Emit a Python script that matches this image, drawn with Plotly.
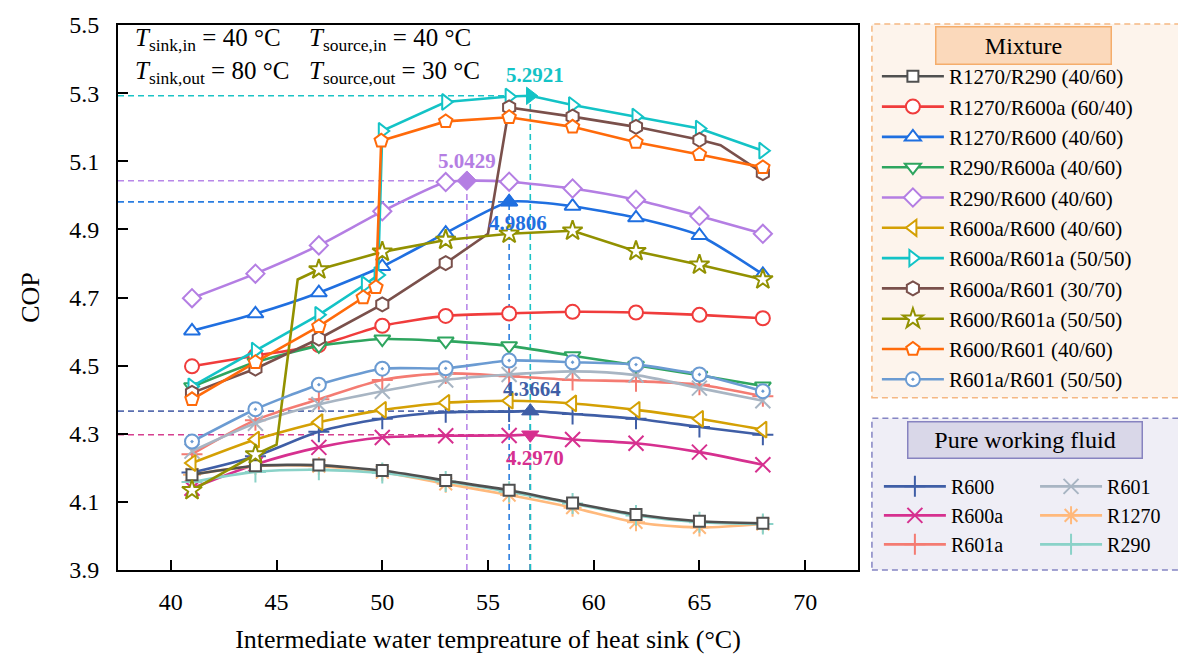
import plotly.graph_objects as go

# ---------------- data ----------------
T_GRID = [41, 44, 47, 50, 53, 56, 59, 62, 65, 68]   # intermediate water temperature (°C)

# pure working fluids
R600_COP = [4.186, 4.234, 4.306, 4.344, 4.363, 4.365, 4.358, 4.344, 4.320, 4.297]
R600A_COP = [4.140, 4.210, 4.260, 4.289, 4.294, 4.295, 4.283, 4.272, 4.246, 4.209]
R601A_COP = [4.240, 4.340, 4.401, 4.458, 4.477, 4.469, 4.458, 4.454, 4.444, 4.410]
R601_COP = [4.249, 4.331, 4.386, 4.425, 4.458, 4.474, 4.483, 4.472, 4.434, 4.397]
R1270_COP = [4.180, 4.205, 4.205, 4.187, 4.153, 4.120, 4.083, 4.040, 4.025, 4.035]
R290_COP = [4.158, 4.188, 4.194, 4.185, 4.160, 4.130, 4.095, 4.060, 4.040, 4.035]

# mixtures
R1270_R290_COP = [4.180, 4.206, 4.208, 4.192, 4.163, 4.134, 4.097, 4.063, 4.043, 4.037]
R1270_R600A_COP = [4.498, 4.529, 4.560, 4.617, 4.646, 4.653, 4.658, 4.656, 4.649, 4.639]
R1270_R600_COP = [4.602, 4.652, 4.714, 4.791, 4.889, 4.9806, 4.968, 4.934, 4.882, 4.768]
R290_R600A_COP = [4.438, 4.510, 4.558, 4.578, 4.572, 4.558, 4.529, 4.501, 4.472, 4.440]
R290_R600_COP = [4.698, 4.770, 4.853, 4.953, 5.039, 5.040, 5.020, 4.987, 4.939, 4.887]
R600A_R600_COP = [4.214, 4.283, 4.334, 4.370, 4.391, 4.397, 4.389, 4.370, 4.344, 4.312]
R600A_R601_COP = [4.420, 4.491, 4.579, 4.680, 4.801, 5.258, 5.231, 5.201, 5.163, 5.065]
R600_R601A_COP = [4.134, 4.239, 4.782, 4.834, 4.869, 4.887, 4.896, 4.836, 4.796, 4.753]
R601A_R601_COP = [4.277, 4.372, 4.444, 4.491, 4.492, 4.515, 4.510, 4.503, 4.474, 4.425]

# evaluated at extra temperatures around the jump near 50 °C
R600A_R601A_T = [41, 44, 47, 49.2, 49.8, 50, 53, 56, 59, 62, 65, 68]
R600A_R601A_COP = [4.439, 4.544, 4.649, 4.739, 4.766, 5.189, 5.274, 5.290, 5.265, 5.231, 5.196, 5.131]
R600_R601_T = [41, 44, 47, 49.1, 49.7, 49.95, 53, 56, 59, 62, 65, 68]
R600_R601_COP = [4.401, 4.510, 4.615, 4.700, 4.730, 5.160, 5.217, 5.229, 5.201, 5.156, 5.120, 5.082]

# unmarked bends of two curves
R600A_R601_BEND_T = [55, 66]
R600A_R601_BEND_COP = [4.887, 5.147]
R600_R601A_BEND_T = [45, 46]
R600_R601A_BEND_COP = [4.268, 4.753]

# highlighted maximum COP values
PEAK_NAMES = ["R600a/R601a (50/50)", "R290/R600 (40/60)", "R1270/R600 (40/60)", "R600", "R600a"]
PEAK_T = [57, 54, 56, 57, 57]
PEAK_COP = [5.2921, 5.0429, 4.9806, 4.3664, 4.2970]

X_TICKS = [40, 45, 50, 55, 60, 65, 70]
Y_TICKS = [3.9, 4.1, 4.3, 4.5, 4.7, 4.9, 5.1, 5.3, 5.5]

# ---------------- styling ----------------
FONT = "Liberation Serif"
L, R, T, B = 118, 862, 17, 577          # plot-area edges in px
X_RANGE = [37.5, 72.5]
Y_RANGE = [3.9, 5.5]


def paper_x(px):
    return (px - L) / (R - L)


def paper_y(py):
    return (B - py) / (B - T)


# name, temps, cop, bend temps, bend cop, colour, symbol, marker size, spline
MIXTURES = [
    ("R1270/R290 (40/60)", T_GRID, R1270_R290_COP, [], [], "#505050", "square", 11, True),
    ("R1270/R600a (60/40)", T_GRID, R1270_R600A_COP, [], [], "#f03c3c", "circle", 14, True),
    ("R1270/R600 (40/60)", T_GRID, R1270_R600_COP, [], [], "#1f6fe0", "triangle-up", 14, True),
    ("R290/R600a (40/60)", T_GRID, R290_R600A_COP, [], [], "#2ea55f", "triangle-down", 14, True),
    ("R290/R600 (40/60)", T_GRID, R290_R600_COP, [], [], "#b47ee3", "diamond", 14, True),
    ("R600a/R600 (40/60)", T_GRID, R600A_R600_COP, [], [], "#d4a004", "triangle-left", 14, True),
    ("R600a/R601a (50/50)", R600A_R601A_T, R600A_R601A_COP, [], [], "#13c3c6", "triangle-right", 14, False),
    ("R600a/R601 (30/70)", T_GRID, R600A_R601_COP, R600A_R601_BEND_T, R600A_R601_BEND_COP,
     "#7a504b", "hexagon", 14, False),
    ("R600/R601a (50/50)", T_GRID, R600_R601A_COP, R600_R601A_BEND_T, R600_R601A_BEND_COP,
     "#929100", "star", 15, False),
    ("R600/R601 (40/60)", R600_R601_T, R600_R601_COP, [], [], "#ff6a0a", "pentagon", 14, False),
    ("R601a/R601 (50/50)", T_GRID, R601A_R601_COP, [], [], "#6b9bd2", "circle-dot", 14, True),
]

PURE = [
    ("R600", R600_COP, "#3f5ea6", "cross-thin", "legend2"),
    ("R600a", R600A_COP, "#d6308f", "x-thin", "legend2"),
    ("R601a", R601A_COP, "#f47b72", "cross-thin", "legend2"),
    ("R601", R601_COP, "#a8b5c3", "x-thin", "legend3"),
    ("R1270", R1270_COP, "#ffb97c", "asterisk", "legend3"),
    ("R290", R290_COP, "#8ad2c8", "cross-thin", "legend3"),
]

PEAK_STYLE = {
    "R600a/R601a (50/50)": ("#13c3c6", "triangle-right", 5, 21),
    "R290/R600 (40/60)": ("#b47ee3", "diamond", 0, 20),
    "R1270/R600 (40/60)": ("#1f6fe0", "triangle-up", 9, -21),
    "R600": ("#3f5ea6", "triangle-up", 2, 22),
    "R600a": ("#d6308f", "triangle-down", 5, -23),
}
GUIDE_COLOUR = {
    "R600a/R601a (50/50)": "#1cc3c6",
    "R290/R600 (40/60)": "#b888e8",
    "R1270/R600 (40/60)": "#2a7de1",
    "R600": "#5a6fb0",
    "R600a": "#d6408f",
}

fig = go.Figure()


def path_points(name, temps, cops, bend_t, bend_c):
    pts = dict(zip(temps, cops))
    pts.update(zip(bend_t, bend_c))
    for n, t, c in zip(PEAK_NAMES, PEAK_T, PEAK_COP):
        if n == name and t not in pts:
            pts[t] = c
    xs = sorted(pts)
    return xs, [pts[x] for x in xs]


# pure working fluids (drawn first, underneath)
for name, cops, colour, symbol, leg in PURE:
    xs, ys = path_points(name, T_GRID, cops, [], [])
    fig.add_trace(go.Scatter(x=xs, y=ys, mode="lines", showlegend=False, hoverinfo="skip",
                             line=dict(color=colour, width=2.6, shape="spline", smoothing=0.8)))
    mk = dict(symbol=symbol, size=15, color=colour, line=dict(color=colour, width=2))
    fig.add_trace(go.Scatter(x=T_GRID, y=cops, mode="markers", showlegend=False,
                             marker=mk, name=name))
    fig.add_trace(go.Scatter(x=[None], y=[None], mode="lines+markers", name=name, legend=leg,
                             line=dict(color=colour, width=2.6), marker=mk))

# mixtures
for name, temps, cops, bt, bc, colour, symbol, msize, smooth in MIXTURES:
    xs, ys = path_points(name, temps, cops, bt, bc)
    line = dict(color=colour, width=2.6)
    if smooth:
        line.update(shape="spline", smoothing=0.6)
    fig.add_trace(go.Scatter(x=xs, y=ys, mode="lines", showlegend=False, hoverinfo="skip", line=line))
    mk = dict(symbol=symbol, size=msize, color="white", line=dict(color=colour, width=2))
    fig.add_trace(go.Scatter(x=temps, y=cops, mode="markers", showlegend=False,
                             marker=mk, name=name))
    fig.add_trace(go.Scatter(x=[None], y=[None], mode="lines+markers", name=name, legend="legend",
                             line=dict(color=colour, width=2.6), marker=mk))

# highlighted maxima: dashed guides, filled markers and value labels
shapes = []
annotations = []
# guides drawn in reverse so the first (highest) maximum sits on top
for name, t, c in reversed(list(zip(PEAK_NAMES, PEAK_T, PEAK_COP))):
    g = GUIDE_COLOUR[name]
    shapes.append(dict(type="line", xref="x", yref="y", x0=X_RANGE[0], x1=t, y0=c, y1=c,
                       line=dict(color=g, width=1.6, dash="6px,4px"), layer="below"))
    shapes.append(dict(type="line", xref="x", yref="y", x0=t, x1=t, y0=Y_RANGE[0], y1=c,
                       line=dict(color=g, width=1.6, dash="6px,4px"), layer="below"))
for name, t, c in zip(PEAK_NAMES, PEAK_T, PEAK_COP):
    colour, symbol, dx, dy = PEAK_STYLE[name]
    fig.add_trace(go.Scatter(x=[t], y=[c], mode="markers", showlegend=False, name=name,
                             marker=dict(symbol=symbol, size=15, color=colour,
                                         line=dict(color=colour, width=1))))
    annotations.append(dict(xref="x", yref="y", x=t, y=c, text=f"<b>{c:.4f}</b>", showarrow=False,
                            xshift=dx, yshift=dy, font=dict(size=21, color=colour, family=FONT)))

# operating conditions
COND = [
    (133, 32, "<i>T</i><sub>sink,in</sub> = 40 °C"),
    (308, 32, "<i>T</i><sub>source,in</sub> = 40 °C"),
    (133, 66, "<i>T</i><sub>sink,out</sub> = 80 °C"),
    (308, 66, "<i>T</i><sub>source,out</sub> = 30 °C"),
]
for px, py, txt in COND:
    annotations.append(dict(xref="paper", yref="paper", x=paper_x(px), y=paper_y(py), text=txt,
                            xanchor="left", yanchor="middle", showarrow=False,
                            font=dict(size=25, family=FONT, color="black")))

# legend panels
shapes.append(dict(type="rect", xref="paper", yref="paper", x0=paper_x(876), x1=paper_x(1190),
                   y0=paper_y(400), y1=paper_y(16), fillcolor="#fdf4ec",
                   line=dict(color="#f5b883", width=1.5, dash="6px,4px"), layer="below"))
shapes.append(dict(type="rect", xref="paper", yref="paper", x0=paper_x(876), x1=paper_x(1190),
                   y0=paper_y(577), y1=paper_y(421), fillcolor="#efeef6",
                   line=dict(color="#8585c4", width=1.5, dash="6px,4px"), layer="below"))
annotations.append(dict(xref="paper", yref="paper", x=paper_x(1028), y=paper_y(38), text="Mixture",
                        xanchor="center", yanchor="middle",
                        showarrow=False, width=172, height=34, bgcolor="#fbd9bb",
                        bordercolor="#f5ad6b", borderwidth=1.5,
                        font=dict(size=24, family=FONT, color="black")))
annotations.append(dict(xref="paper", yref="paper", x=paper_x(1030), y=paper_y(443),
                        text="Pure working fluid", showarrow=False, width=231, height=33,
                        xanchor="center", yanchor="middle",
                        bgcolor="#d9d7e8", bordercolor="#8783c0", borderwidth=1.5,
                        font=dict(size=24, family=FONT, color="black")))

legend_common = dict(xanchor="left", yanchor="top", bgcolor="rgba(0,0,0,0)", borderwidth=0,
                     itemwidth=62, tracegroupgap=0, orientation="v")
font21 = dict(size=21, family=FONT, color="black")
font20 = dict(size=20, family=FONT, color="black")

fig.update_layout(
    width=1178, height=661, autosize=False,
    margin=dict(l=L, r=1178 - R, t=T, b=661 - B),
    paper_bgcolor="white", plot_bgcolor="white",
    font=dict(family=FONT, color="black"),
    showlegend=True,
    legend=dict(x=paper_x(881), y=paper_y(49), font=font21, **legend_common),
    legend2=dict(x=paper_x(883), y=paper_y(471), font=font20, **legend_common),
    legend3=dict(x=paper_x(1040), y=paper_y(471), font=font20, **legend_common),
    shapes=shapes,
    annotations=annotations,
    xaxis=dict(range=X_RANGE, tickvals=X_TICKS, ticks="inside", ticklen=10, tickwidth=2,
               tickcolor="black", showline=True, linewidth=2, linecolor="black", mirror=True,
               showgrid=False, zeroline=False, tickfont=dict(size=24, family=FONT),
               ticklabelstandoff=9,
               title=dict(text="Intermediate water tempreature of heat sink (°C)",
                          font=dict(size=26, family=FONT), standoff=16)),
    yaxis=dict(range=Y_RANGE, tickvals=Y_TICKS, tickformat=".1f", ticks="inside", ticklen=10,
               tickwidth=2, tickcolor="black", showline=True, linewidth=2, linecolor="black",
               mirror=True, showgrid=False, zeroline=False, tickfont=dict(size=24, family=FONT),
               ticklabelstandoff=12,
               title=dict(text="COP", font=dict(size=26, family=FONT), standoff=22)),
)

fig.write_html("out.html")
